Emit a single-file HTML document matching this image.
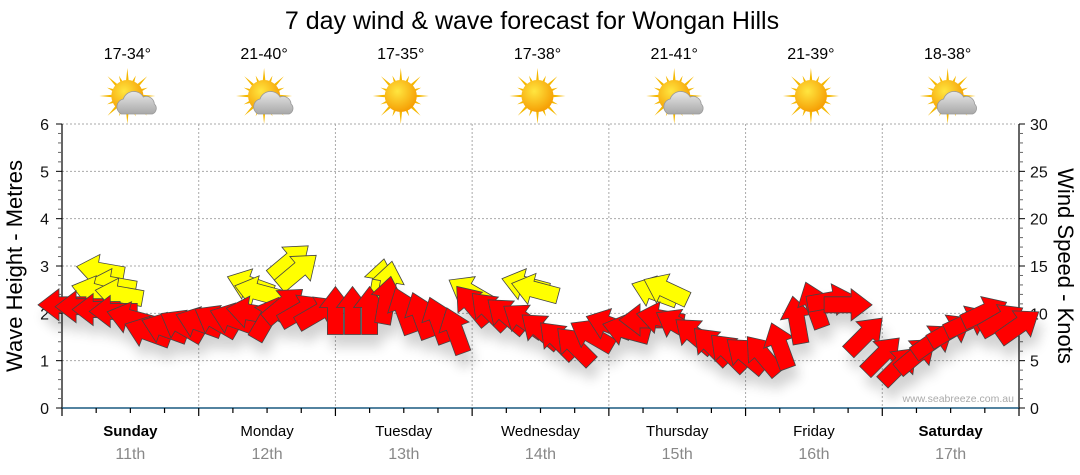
<!DOCTYPE html>
<html><head><meta charset="utf-8">
<style>
body{margin:0;background:#fff;}
svg{display:block;font-family:"Liberation Sans",Arial,sans-serif;}
</style></head>
<body>
<svg id="chart" width="1080" height="475" viewBox="0 0 1080 475" xmlns="http://www.w3.org/2000/svg">
<defs>
<filter id="shadow" x="-50%" y="-50%" width="200%" height="200%">
<feGaussianBlur in="SourceAlpha" stdDeviation="6"/>
<feOffset dx="4" dy="12" result="b"/>
<feComponentTransfer><feFuncA type="linear" slope="0.18"/></feComponentTransfer>
<feMerge><feMergeNode/><feMergeNode in="SourceGraphic"/></feMerge>
</filter>
<radialGradient id="sunG" cx="40%" cy="35%" r="70%"><stop offset="0" stop-color="#ffe640"/><stop offset="1" stop-color="#f59a00"/></radialGradient>
<linearGradient id="cloudG" x1="0" y1="0" x2="0" y2="1"><stop offset="0" stop-color="#e8e8e8"/><stop offset="1" stop-color="#a8a8a8"/></linearGradient>
</defs>
<text x="532" y="29" font-size="25" text-anchor="middle" fill="#000">7 day wind &amp; wave forecast for Wongan Hills</text>
<g id="grid"></g>
<g id="axes"></g>
<g id="icons"></g>
<g id="waves"></g>
<g id="wind" filter="url(#shadow)"></g>
<text transform="translate(22,266) rotate(-90)" font-size="22" text-anchor="middle">Wave Height - Metres</text>
<text transform="translate(1058,266) rotate(90)" font-size="22" text-anchor="middle">Wind Speed - Knots</text>
<text x="1014" y="402" font-size="10.5" text-anchor="end" fill="#aaa">www.seabreeze.com.au</text>
</svg>
<script>
const days = ["Sunday","Monday","Tuesday","Wednesday","Thursday","Friday","Saturday"];
const dates = ["11th","12th","13th","14th","15th","16th","17th"];
const boldDays = [true,false,false,false,false,false,true];
const temps = ["17-34°","21-40°","17-35°","17-38°","21-41°","21-39°","18-38°"];
const cloudy = [true,true,false,false,true,false,true];
const leftTicks = [0,1,2,3,4,5,6];
const rightTicks = [0,5,10,15,20,25,30];
// wind every 3 hours from start (knots, direction arrow points: degrees, 0=east, 90=north)
const windSpeed = [10.9,10.7,10.4,10.2,9.5,8.0,8.4,8.7,
  9.0,9.2,9.4,10.1,9.5,10.9,10.3,10.1,
  10.3,10.3,10.3,11.4,10.3,9.8,9.3,8.2,
  10.9,10.3,9.8,9.3,8.2,7.2,6.6,7.7,
  8.8,8.2,9.3,9.5,8.8,7.7,6.6,5.9,
  5.6,5.6,6.6,9.3,10.9,11.4,10.9,7.7,
  5.6,4.5,5.6,7.1,8.2,9.1,10.1,9.3,8.7];
const windDir = [180,180,180,180,165,160,160,150,
  160,150,160,170,60,40,30,30,
  90,90,90,80,110,110,110,110,
  130,135,140,145,140,135,135,150,
  160,165,180,170,150,140,135,135,
  140,130,110,100,110,10,0,45,
  45,45,40,35,30,25,25,30,35];
// wave/swell arrows: hour, height (m), direction
const waveHour = [6.7,8.8,5.8,10,33,34.4,40,41.4,55.8,57.2,71.6,81.3,83,104,106];
const waveHeight = [2.9,2.6,2.45,2.4,2.6,2.45,3.1,2.9,2.65,2.6,2.45,2.6,2.5,2.45,2.5];
const waveDir = [170,170,165,170,160,165,40,40,80,80,150,165,165,160,155];

const NS="http://www.w3.org/2000/svg";
const X0=62,X1=1019,Y0=408,Y1=124,HOURS=168;
const xH=h=>X0+(X1-X0)*h/HOURS;
const yM=m=>Y0-(Y0-Y1)*m/6;
const yK=k=>Y0-(Y0-Y1)*k/30;
function mk(tag,attrs,parent){const e=document.createElementNS(NS,tag);for(const k in attrs)e.setAttribute(k,attrs[k]);parent.appendChild(e);return e;}
const grid=document.getElementById('grid'),axes=document.getElementById('axes'),icons=document.getElementById('icons');

for(let i=1;i<=6;i++){const l=mk('line',{x1:X0,x2:1015,y1:yM(i),y2:yM(i),stroke:'#aaa','stroke-dasharray':'2,2'},grid);

}
for(let d=1;d<7;d++){const l=mk('line',{x1:xH(d*24),x2:xH(d*24),y1:Y1,y2:Y0,stroke:'#aaa','stroke-dasharray':'2,2'},grid);

}
mk('line',{x1:X0,x2:X0,y1:Y1,y2:Y0,stroke:'#000','stroke-width':1.2},axes);
mk('line',{x1:X1,x2:X1,y1:Y1,y2:Y0,stroke:'#000','stroke-width':1.2},axes);
mk('line',{x1:X0,x2:X1,y1:Y0,y2:Y0,stroke:'#1a5a80','stroke-width':1.5},axes);
for(let i=0;i<=30;i++){const y=Y0-(Y0-Y1)*i/30;const major=i%5===0;
mk('line',{x1:X0-(major?6:4),x2:X0,y1:y,y2:y,stroke:major?'#000':'#666'},axes);
mk('line',{x1:X1,x2:X1+(major?6:4),y1:y,y2:y,stroke:major?'#000':'#666'},axes);}
leftTicks.forEach(v=>{const t=mk('text',{x:49,y:yM(v)+6,'font-size':16,'text-anchor':'end',fill:'#111'},axes);t.textContent=v;

});
rightTicks.forEach(v=>{const t=mk('text',{x:1030,y:yK(v)+6,'font-size':16,fill:'#111'},axes);t.textContent=v;

});
for(let h=0;h<=HOURS;h+=6){mk('line',{x1:xH(h),x2:xH(h),y1:Y0,y2:Y0+(h%24===0?8:5),stroke:'#000','stroke-width':1.2},axes);}
days.forEach((d,i)=>{const cx=xH(i*24+12);
const t=mk('text',{x:cx,y:436,'font-size':15,'text-anchor':'middle','font-weight':boldDays[i]?'bold':'normal',fill:'#000'},axes);t.textContent=d;


const t2=mk('text',{x:cx,y:459,'font-size':16,'text-anchor':'middle',fill:'#888'},axes);t2.textContent=dates[i];


const t3=mk('text',{x:cx-3,y:59,'font-size':16,'text-anchor':'middle',fill:'#000'},icons);t3.textContent=temps[i];


const g=mk('g',{transform:`translate(${cx-3},96)`},icons);


for(let a=0;a<16;a++){const r=a%2?22:28;const ang=a*Math.PI/8;
mk('polygon',{points:`${Math.cos(ang-0.12)*13},${Math.sin(ang-0.12)*13} ${Math.cos(ang)*r},${Math.sin(ang)*r} ${Math.cos(ang+0.12)*13},${Math.sin(ang+0.12)*13}`,fill:'#f5b800'},g);}
mk('circle',{cx:0,cy:0,r:16,fill:'url(#sunG)'},g);
if(cloudy[i]){mk('path',{d:'M-6,18 a8,8 0 0 1 2,-15 a11,11 0 0 1 20,-2 a8,8 0 0 1 11,7 a6,6 0 0 1 -2,10 z',fill:'url(#cloudG)',stroke:'#999','stroke-width':0.8},g);}
});

function arrow(parent,cx,cy,dir,fill,name){
const L=48,sw=8,hw=16,hl=21;
const p=[[-L/2,-sw],[L/2-hl,-sw],[L/2-hl,-hw],[L/2,0],[L/2-hl,hw],[L/2-hl,sw],[-L/2,sw]].map(q=>q.join(',')).join(' ');
const e=mk('polygon',{points:p,fill:fill,stroke:'#444','stroke-width':0.8,transform:`translate(${cx},${cy}) rotate(${-dir})`},parent);


}
const waves=document.getElementById('waves');
waveHour.forEach((h,i)=>{arrow(waves,xH(h),yM(waveHeight[i]),waveDir[i],'#ffff00','wave-arrow');});
const wind=document.getElementById('wind');
windSpeed.forEach((k,i)=>{arrow(wind,xH(i*3),yK(k),windDir[i],'#ff0000','wind-arrow');});
</script>
</body></html>
